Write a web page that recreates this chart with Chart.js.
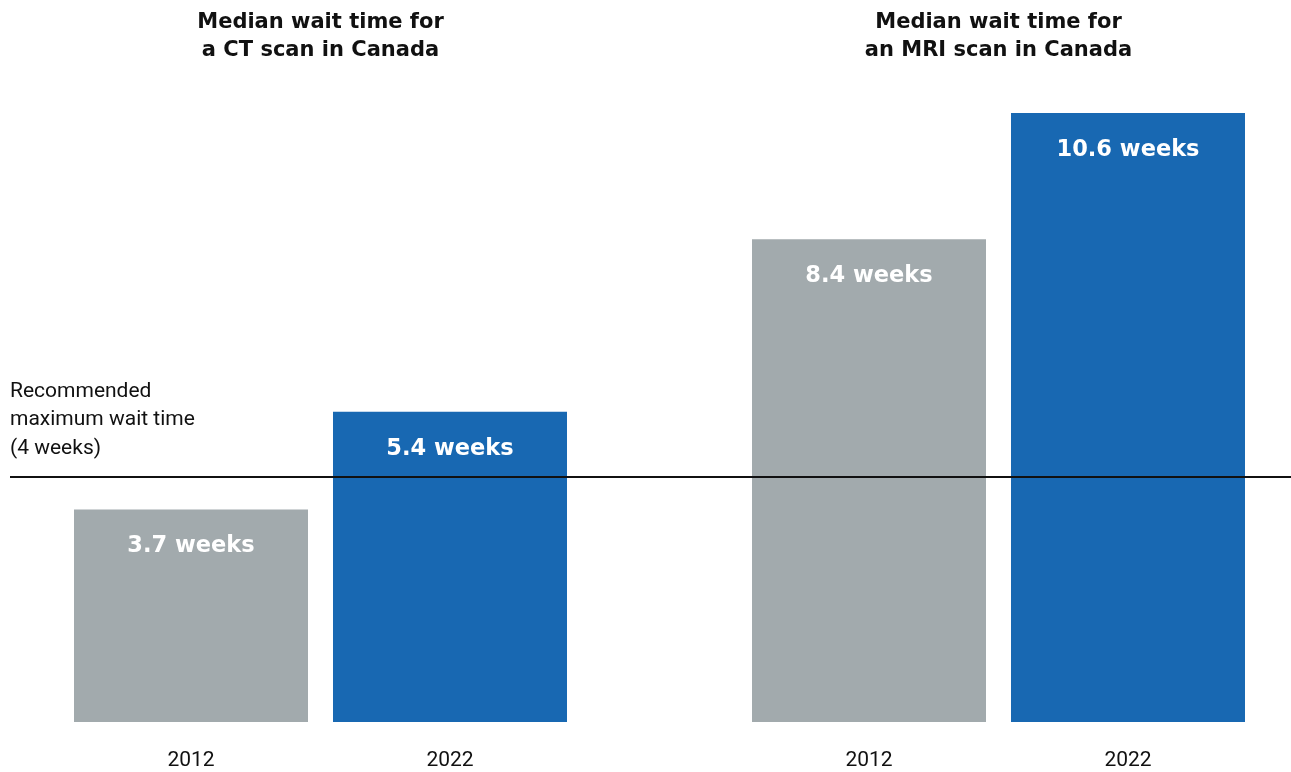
<!DOCTYPE html>
<html>
<head>
<meta charset="utf-8">
<title>Median wait times for CT and MRI scans in Canada</title>
<script src="https://cdn.jsdelivr.net/npm/chart.js@4.4.0/dist/chart.umd.min.js"></script>
<style>
  html, body { margin: 0; padding: 0; background: #fff; }
  #wrap { position: relative; width: 1291px; height: 772px; overflow: hidden; }
  .panel { position: absolute; top: 0; height: 772px; }
  #ct-panel { left: 0; width: 660px; }
  #mri-panel { left: 660px; width: 631px; }
</style>
</head>
<body>
<div id="wrap">
  <div class="panel" id="ct-panel"><canvas id="ct-chart" width="660" height="772"></canvas></div>
  <div class="panel" id="mri-panel"><canvas id="mri-chart" width="631" height="772"></canvas></div>
</div>
<script>
// data
const years = ['2012', '2022'];
const ctWeeks = [3.7, 5.4];
const mriWeeks = [8.4, 10.6];
const ctTitle = ['Median wait time for', 'a CT scan in Canada'];
const mriTitle = ['Median wait time for', 'an MRI scan in Canada'];
const recommendedText = ['Recommended', 'maximum wait time', '(4 weeks)'];
const recommendedLevel = 4.26; // where the rule sits against the bars in the graphic
const yMax = 10.6;

const barColors = ['#a2aaad', '#1868b2'];
const headFont = '"DejaVu Sans", "Open Sans", sans-serif';
const bodyFont = 'Roboto, "Liberation Sans", sans-serif';

// white "x weeks" text near the top of each bar
const barLabels = {
  id: 'barLabels',
  afterDatasetsDraw(chart) {
    const ctx = chart.ctx;
    const meta = chart.getDatasetMeta(0);
    const values = chart.data.datasets[0].data;
    ctx.save();
    ctx.fillStyle = '#ffffff';
    ctx.font = '700 22.5px ' + headFont;
    ctx.textAlign = 'center';
    ctx.textBaseline = 'alphabetic';
    meta.data.forEach((bar, i) => {
      ctx.fillText(values[i].toFixed(1) + ' weeks', bar.x, bar.y + 43);
    });
    ctx.restore();
  }
};

// horizontal rule for the recommended maximum, plus its label on the left chart
const recommendedRule = {
  id: 'recommendedRule',
  afterDatasetsDraw(chart, args, opts) {
    const ctx = chart.ctx;
    const y = Math.round(chart.scales.y.getPixelForValue(recommendedLevel));
    ctx.save();
    ctx.strokeStyle = '#111111';
    ctx.lineWidth = 2;
    ctx.beginPath();
    ctx.moveTo(opts.startX, y);
    ctx.lineTo(chart.width, y);
    ctx.stroke();
    if (opts.showText) {
      ctx.fillStyle = '#111111';
      ctx.font = '400 21px ' + bodyFont;
      ctx.textAlign = 'left';
      ctx.textBaseline = 'alphabetic';
      recommendedText.forEach((line, i) => {
        ctx.fillText(line, opts.startX, y - 80 + i * 28.3);
      });
    }
    ctx.restore();
  }
};

function makeChart(canvasId, title, values, padLeft, padRight, ruleOpts) {
  return new Chart(document.getElementById(canvasId), {
    type: 'bar',
    data: {
      labels: years,
      datasets: [{
        data: values,
        backgroundColor: barColors,
        borderWidth: 0,
        categoryPercentage: 1,
        barPercentage: 0.9035
      }]
    },
    options: {
      responsive: false,
      animation: false,
      devicePixelRatio: 1,
      layout: { padding: { left: padLeft, right: padRight, top: 0, bottom: 0 } },
      plugins: {
        legend: { display: false },
        tooltip: { enabled: false },
        title: {
          display: true,
          text: title,
          color: '#111111',
          font: { family: headFont, size: 21, weight: '700', lineHeight: 1.33 },
          padding: { top: 9, bottom: 48.1 }
        },
        recommendedRule: ruleOpts
      },
      scales: {
        x: {
          grid: { display: false, drawTicks: false },
          border: { display: false },
          ticks: {
            color: '#111111',
            font: { family: bodyFont, size: 21 },
            padding: 26
          },
          afterFit(scale) { scale.height = 50; }
        },
        y: {
          display: false,
          min: 0,
          max: yMax
        }
      }
    },
    plugins: [barLabels, recommendedRule]
  });
}

makeChart('ct-chart', ctTitle, ctWeeks, 61.5, 80.5, { startX: 10, showText: true });
makeChart('mri-chart', mriTitle, mriWeeks, 79.5, 33.5, { startX: 0, showText: false });
</script>
</body>
</html>
